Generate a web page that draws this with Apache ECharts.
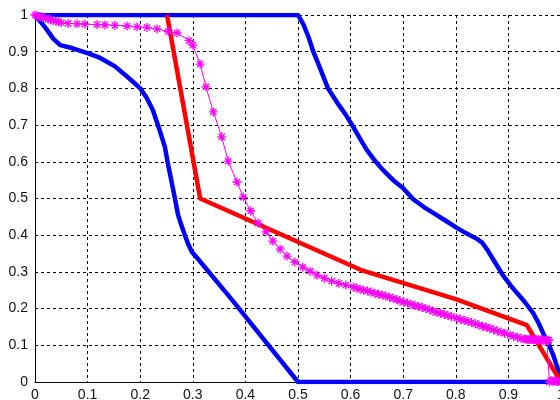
<!DOCTYPE html>
<html>
<head>
<meta charset="utf-8">
<script src="https://cdn.jsdelivr.net/npm/echarts@6/dist/echarts.min.js"></script>
<style>
html,body{margin:0;padding:0;background:#fff;}
#chart{width:560px;height:400px;}
</style>
</head>
<body>
<div id="chart"></div>
<script>
// Tick values
var xTicks = [0, 0.1, 0.2, 0.3, 0.4, 0.5, 0.6, 0.7, 0.8, 0.9, 1];
var yTicks = [0, 0.1, 0.2, 0.3, 0.4, 0.5, 0.6, 0.7, 0.8, 0.9, 1];

// Upper blue bound
var blueUpper = [
  [0, 1], [0.5, 1], [0.51, 0.975], [0.52, 0.94], [0.529, 0.9], [0.54, 0.862],
  [0.557, 0.8], [0.575, 0.76], [0.59, 0.73], [0.603, 0.70], [0.617, 0.665],
  [0.631, 0.632], [0.645, 0.605], [0.66, 0.58], [0.681, 0.55], [0.70, 0.528],
  [0.719, 0.498], [0.74, 0.476], [0.76, 0.458], [0.78, 0.44], [0.802, 0.42],
  [0.82, 0.405], [0.84, 0.39], [0.85, 0.38], [0.86, 0.36], [0.875, 0.325],
  [0.89, 0.29], [0.905, 0.262], [0.916, 0.243], [0.93, 0.22], [0.947, 0.188],
  [0.957, 0.162], [0.966, 0.133], [0.976, 0.105], [0.985, 0.074], [0.993, 0.04],
  [1, 0]
];

// Lower blue bound
var blueLower = [
  [0, 1], [0.02, 0.965], [0.035, 0.935], [0.048, 0.918], [0.07, 0.91],
  [0.1, 0.896], [0.124, 0.883], [0.152, 0.86], [0.181, 0.825], [0.2, 0.8],
  [0.212, 0.775], [0.224, 0.741], [0.236, 0.69], [0.247, 0.64], [0.252, 0.6],
  [0.259, 0.55], [0.266, 0.5], [0.272, 0.455], [0.28, 0.42], [0.29, 0.38],
  [0.298, 0.355], [0.31, 0.335], [0.375, 0.223], [0.5, 0], [1, 0]
];

// Red curve
var redCurve = [
  [0.251, 1], [0.314, 0.5], [0.62, 0.305], [0.8, 0.226], [0.935, 0.155], [1, 0]
];

// Magenta curve with star markers
var magentaCurve = [
  [0, 1], [0.004, 0.998], [0.008, 0.996], [0.012, 0.995], [0.016, 0.993],
  [0.02, 0.991], [0.025, 0.989], [0.03, 0.987], [0.035, 0.985], [0.04, 0.983],
  [0.045, 0.981], [0.05, 0.979], [0.063, 0.977], [0.08, 0.976], [0.095, 0.975],
  [0.118, 0.974], [0.133, 0.973], [0.152, 0.972], [0.175, 0.970], [0.194, 0.968],
  [0.213, 0.966], [0.232, 0.962], [0.253, 0.955], [0.270, 0.951], [0.293, 0.930],
  [0.300, 0.918], [0.314, 0.866], [0.325, 0.804], [0.339, 0.736], [0.355, 0.668],
  [0.367, 0.602], [0.384, 0.545], [0.396, 0.504], [0.41, 0.466], [0.424, 0.433],
  [0.439, 0.409], [0.452, 0.384], [0.466, 0.362], [0.479, 0.343], [0.494, 0.327],
  [0.509, 0.313], [0.523, 0.302], [0.536, 0.291], [0.55, 0.283], [0.564, 0.275],
  [0.578, 0.269], [0.591, 0.264], [0.605, 0.259], [0.612, 0.256], [0.618, 0.253],
  [0.625, 0.250], [0.632, 0.248], [0.639, 0.245], [0.646, 0.242], [0.653, 0.239],
  [0.660, 0.237], [0.667, 0.234], [0.674, 0.231], [0.681, 0.228], [0.688, 0.225],
  [0.694, 0.220], [0.701, 0.218], [0.708, 0.215], [0.715, 0.212], [0.722, 0.209],
  [0.729, 0.206], [0.736, 0.203], [0.743, 0.200], [0.750, 0.197], [0.757, 0.193],
  [0.764, 0.190], [0.771, 0.187], [0.778, 0.184], [0.785, 0.181], [0.792, 0.178],
  [0.802, 0.174], [0.809, 0.171], [0.816, 0.168], [0.823, 0.165], [0.830, 0.162],
  [0.837, 0.159], [0.844, 0.155], [0.851, 0.152], [0.858, 0.149], [0.865, 0.146],
  [0.872, 0.142], [0.879, 0.139], [0.886, 0.136], [0.893, 0.133], [0.903, 0.128],
  [0.910, 0.125], [0.917, 0.122], [0.924, 0.119], [0.930, 0.117], [0.933, 0.117],
  [0.937, 0.116], [0.940, 0.116], [0.943, 0.116], [0.946, 0.116], [0.949, 0.115],
  [0.952, 0.115], [0.955, 0.115], [0.958, 0.115], [0.961, 0.115], [0.964, 0.114],
  [0.967, 0.114], [0.970, 0.114], [0.973, 0.114], [0.976, 0.114], [0.977, 0.114],
  [0.978, 0.0], [0.981, 0.004], [0.984, 0.003], [0.987, 0.003], [0.990, 0.002],
  [0.993, 0.002], [0.996, 0.001], [1, 0]
];

var starPath = 'path://M0,-10L0,10M-10,0L10,0M-7,-7L7,7M-7,7L7,-7';

var chart = echarts.init(document.getElementById('chart'), null, {renderer: 'canvas'});

var axisCommon = {
  type: 'value',
  min: 0,
  max: 1,
  interval: 0.1,
  axisLine: {show: true, onZero: false, lineStyle: {color: '#000', width: 1}},
  axisTick: {show: false},
  splitLine: {show: true, lineStyle: {color: '#000', width: 1, type: [3, 3]}},
  axisLabel: {color: '#111', fontFamily: 'Liberation Sans, Arial, sans-serif', fontSize: 14}
};

chart.setOption({
  animation: false,
  backgroundColor: '#fff',
  grid: {left: 35, top: 15, width: 526, height: 367, containLabel: false, outerBoundsMode: 'none'},
  xAxis: Object.assign({}, axisCommon, {
    axisLabel: Object.assign({}, axisCommon.axisLabel, {
      margin: 6,
      formatter: function (v) { return xTicks.indexOf(Math.round(v * 10) / 10) >= 0 ? String(Math.round(v * 10) / 10) : ''; }
    })
  }),
  yAxis: Object.assign({}, axisCommon, {
    axisLabel: Object.assign({}, axisCommon.axisLabel, {
      margin: 7,
      formatter: function (v) { return yTicks.indexOf(Math.round(v * 10) / 10) >= 0 ? String(Math.round(v * 10) / 10) : ''; }
    })
  }),
  series: [
    {
      type: 'line', data: blueUpper, symbol: 'none', clip: true,
      lineStyle: {color: '#0000ff', width: 4.5, join: 'round', cap: 'round'}
    },
    {
      type: 'line', data: blueLower, symbol: 'none', clip: true,
      lineStyle: {color: '#0000ff', width: 4.5, join: 'round', cap: 'round'}
    },
    {
      type: 'line', data: redCurve, symbol: 'none', clip: true,
      lineStyle: {color: '#ff0000', width: 4.5, join: 'round'}
    },
    {
      type: 'line', data: magentaCurve, clip: true,
      showAllSymbol: true,
      symbol: starPath, symbolSize: 9,
      lineStyle: {color: '#ff00ff', width: 1},
      itemStyle: {color: 'rgba(0,0,0,0)', borderColor: '#ff00ff', borderWidth: 1.3}
    }
  ]
});
</script>
</body>
</html>
